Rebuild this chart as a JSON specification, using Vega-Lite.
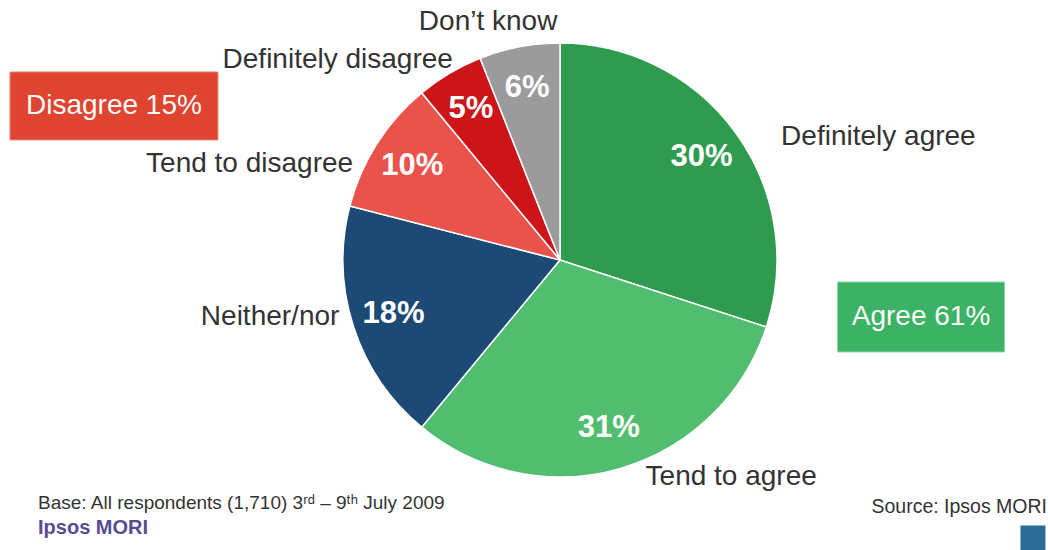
{
  "$schema": "https://vega.github.io/schema/vega-lite/v6.json",
  "autosize": {"type": "none"},
  "width": 976,
  "height": 520,
  "padding": {"left": 72, "top": 0, "right": 0, "bottom": 30},
  "background": "white",
  "config": {"view": {"stroke": null}, "font": "Liberation Sans"},
  "datasets": {
    "slices": [
      {"category": "Definitely agree", "share": 0.30, "order": 1},
      {"category": "Tend to agree", "share": 0.31, "order": 2},
      {"category": "Neither/nor", "share": 0.18, "order": 3},
      {"category": "Tend to disagree", "share": 0.10, "order": 4},
      {"category": "Definitely disagree", "share": 0.05, "order": 5},
      {"category": "Don’t know", "share": 0.06, "order": 6}
    ]
  },
  "layer": [
    {
      "data": {"name": "slices"},
      "mark": {"type": "arc", "outerRadius": 217, "stroke": "white", "strokeWidth": 1.5},
      "encoding": {
        "theta": {"field": "share", "type": "quantitative", "stack": true},
        "order": {"field": "order", "type": "quantitative"},
        "color": {
          "field": "category", "type": "nominal", "legend": null,
          "scale": {
            "domain": ["Definitely agree", "Tend to agree", "Neither/nor", "Tend to disagree", "Definitely disagree", "Don’t know"],
            "range": ["#2e9b4f", "#50bd6f", "#1c4a74", "#e9534c", "#cc1419", "#9b9b9b"]
          }
        }
      }
    },
    {
      "data": {"name": "slices"},
      "mark": {"type": "text", "radius": 175, "fontSize": 31, "fontWeight": "bold", "fill": "white", "align": "center", "baseline": "middle"},
      "encoding": {
        "theta": {"field": "share", "type": "quantitative", "stack": true},
        "order": {"field": "order", "type": "quantitative"},
        "text": {"field": "share", "type": "quantitative", "format": ".0%"}
      }
    },
    {
      "data": {"name": "slices"},
      "mark": {"type": "text", "radius": 235, "dx": 31, "dy": 15, "fontSize": 28, "fill": "#333333", "align": "left", "baseline": "middle"},
      "encoding": {
        "theta": {"field": "share", "type": "quantitative", "stack": true},
        "order": {"field": "order", "type": "quantitative"},
        "text": {"condition": {"test": "datum.order == 1", "field": "category", "type": "nominal"}, "value": ""}
      }
    },
    {
      "data": {"name": "slices"},
      "mark": {"type": "text", "radius": 235, "dx": 20, "dy": -9, "fontSize": 28, "fill": "#333333", "align": "left", "baseline": "middle"},
      "encoding": {
        "theta": {"field": "share", "type": "quantitative", "stack": true},
        "order": {"field": "order", "type": "quantitative"},
        "text": {"condition": {"test": "datum.order == 2", "field": "category", "type": "nominal"}, "value": ""}
      }
    },
    {
      "data": {"name": "slices"},
      "mark": {"type": "text", "radius": 232, "dy": -15, "fontSize": 28, "fill": "#333333", "align": "right", "baseline": "middle"},
      "encoding": {
        "theta": {"field": "share", "type": "quantitative", "stack": true},
        "order": {"field": "order", "type": "quantitative"},
        "text": {"condition": {"test": "datum.order == 3", "field": "category", "type": "nominal"}, "value": ""}
      }
    },
    {
      "data": {"name": "slices"},
      "mark": {"type": "text", "radius": 232, "dx": -11, "dy": 28, "fontSize": 28, "fill": "#333333", "align": "right", "baseline": "middle"},
      "encoding": {
        "theta": {"field": "share", "type": "quantitative", "stack": true},
        "order": {"field": "order", "type": "quantitative"},
        "text": {"condition": {"test": "datum.order == 4", "field": "category", "type": "nominal"}, "value": ""}
      }
    },
    {
      "data": {"name": "slices"},
      "mark": {"type": "text", "radius": 232, "dx": 11, "fontSize": 28, "fill": "#333333", "align": "right", "baseline": "middle"},
      "encoding": {
        "theta": {"field": "share", "type": "quantitative", "stack": true},
        "order": {"field": "order", "type": "quantitative"},
        "text": {"condition": {"test": "datum.order == 5", "field": "category", "type": "nominal"}, "value": ""}
      }
    },
    {
      "data": {"name": "slices"},
      "mark": {"type": "text", "radius": 245, "dx": -26, "dy": 3, "fontSize": 28, "fill": "#333333", "align": "center", "baseline": "middle"},
      "encoding": {
        "theta": {"field": "share", "type": "quantitative", "stack": true},
        "order": {"field": "order", "type": "quantitative"},
        "text": {"condition": {"test": "datum.order == 6", "field": "category", "type": "nominal"}, "value": ""}
      }
    },
    {
      "data": {"values": [{"note": "Disagree 15%"}]},
      "encoding": {
        "x": {"datum": 0.043, "type": "quantitative", "scale": {"domain": [0, 1]}, "axis": null},
        "y": {"datum": 0.2038, "type": "quantitative", "scale": {"domain": [0, 1], "reverse": true}, "axis": null}
      },
      "layer": [
        {"mark": {"type": "point", "shape": "M-1,-0.327L1,-0.327L1,0.327L-1,0.327Z", "size": 43264, "filled": true, "fill": "#df4430", "opacity": 1, "stroke": "#ea8a78", "strokeWidth": 1}},
        {"mark": {"type": "text", "fontSize": 28, "fill": "#fbfbfb", "align": "center", "baseline": "middle"}, "encoding": {"text": {"field": "note", "type": "nominal"}}}
      ]
    },
    {
      "data": {"values": [{"note": "Agree 61%"}]},
      "encoding": {
        "x": {"datum": 0.8699, "type": "quantitative", "scale": {"domain": [0, 1]}, "axis": null},
        "y": {"datum": 0.6096, "type": "quantitative", "scale": {"domain": [0, 1], "reverse": true}, "axis": null}
      },
      "layer": [
        {"mark": {"type": "point", "shape": "M-1,-0.419L1,-0.419L1,0.419L-1,0.419Z", "size": 27889, "filled": true, "fill": "#3cb364", "opacity": 1, "stroke": "#8fd4a3", "strokeWidth": 1}},
        {"mark": {"type": "text", "fontSize": 28, "fill": "#fbfbfb", "align": "center", "baseline": "middle"}, "encoding": {"text": {"field": "note", "type": "nominal"}}}
      ]
    },
    {
      "data": {"values": [{"note": "Base: All respondents (1,710) 3ʳᵈ – 9ᵗʰ July 2009"}]},
      "mark": {"type": "text", "fontSize": 19, "fill": "#333333", "align": "left", "baseline": "middle"},
      "encoding": {
        "x": {"datum": -0.0348, "type": "quantitative", "scale": {"domain": [0, 1]}, "axis": null},
        "y": {"datum": 0.9673, "type": "quantitative", "scale": {"domain": [0, 1], "reverse": true}, "axis": null},
        "text": {"field": "note", "type": "nominal"}
      }
    },
    {
      "data": {"values": [{"note": "Ipsos MORI"}]},
      "mark": {"type": "text", "fontSize": 20, "fontWeight": "bold", "fill": "#5a4b91", "align": "left", "baseline": "middle"},
      "encoding": {
        "x": {"datum": -0.0348, "type": "quantitative", "scale": {"domain": [0, 1]}, "axis": null},
        "y": {"datum": 1.0154, "type": "quantitative", "scale": {"domain": [0, 1], "reverse": true}, "axis": null},
        "text": {"field": "note", "type": "nominal"}
      }
    },
    {
      "data": {"values": [{"note": "Source: Ipsos MORI"}]},
      "mark": {"type": "text", "fontSize": 19.5, "fill": "#333333", "align": "right", "baseline": "middle"},
      "encoding": {
        "x": {"datum": 0.999, "type": "quantitative", "scale": {"domain": [0, 1]}, "axis": null},
        "y": {"datum": 0.975, "type": "quantitative", "scale": {"domain": [0, 1], "reverse": true}, "axis": null},
        "text": {"field": "note", "type": "nominal"}
      }
    },
    {
      "data": {"values": [{"note": "logo"}]},
      "mark": {"type": "point", "shape": "square", "size": 625, "filled": true, "fill": "#2b6d95", "opacity": 1},
      "encoding": {
        "x": {"datum": 0.9846, "type": "quantitative", "scale": {"domain": [0, 1]}, "axis": null},
        "y": {"datum": 1.0346, "type": "quantitative", "scale": {"domain": [0, 1], "reverse": true}, "axis": null}
      }
    }
  ]
}
